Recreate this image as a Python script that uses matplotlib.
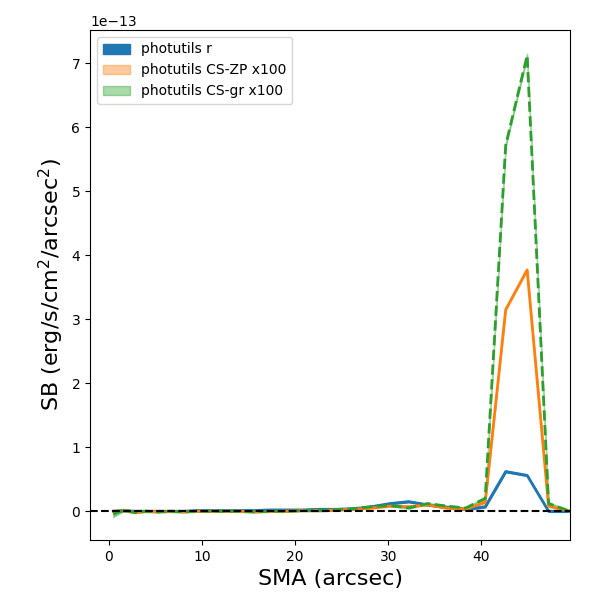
import numpy as np
import matplotlib
matplotlib.use("Agg")
import matplotlib.pyplot as plt

# semi-major axis samples (arcsec)
sma = np.array([0.5, 1.6, 2.8, 4.0, 5.3, 6.6, 8.0, 9.4, 10.9, 12.4, 14.0,
                15.6, 17.3, 19.0, 20.8, 22.6, 24.4, 26.3, 28.2, 30.2, 32.2,
                34.2, 36.3, 38.3, 40.4, 42.6, 44.9, 47.2, 49.5])

# surface brightness, units of 1e-13 erg/s/cm^2/arcsec^2
sb_r = np.array([0.0, 0.01, 0.0, 0.0, 0.0, 0.0, 0.0, 0.01, 0.01, 0.01, 0.01,
                 0.01, 0.02, 0.02, 0.02, 0.03, 0.03, 0.04, 0.07, 0.12, 0.15,
                 0.10, 0.06, 0.03, 0.07, 0.62, 0.56, 0.0, 0.0])
sb_zp = np.array([0.0, 0.01, -0.02, 0.0, -0.01, 0.0, -0.01, 0.0, 0.0, 0.0, 0.0,
                  -0.01, 0.0, 0.0, 0.01, 0.01, 0.02, 0.03, 0.05, 0.08, 0.07,
                  0.10, 0.05, 0.03, 0.14, 3.15, 3.77, 0.08, 0.0])
sb_gr = np.array([-0.05, 0.02, -0.02, 0.0, -0.01, 0.0, -0.01, 0.0, 0.0, 0.0, 0.0,
                  -0.01, 0.0, 0.0, 0.01, 0.01, 0.02, 0.04, 0.07, 0.09, 0.05,
                  0.12, 0.08, 0.05, 0.20, 5.72, 7.12, 0.12, 0.0])

# uncertainty bands
err_r = np.array([0.01] * len(sma))
err_zp = np.array([0.01] * len(sma))
err_gr = np.array([0.04, 0.02, 0.01, 0.01, 0.01, 0.01, 0.01, 0.01, 0.01, 0.01,
                   0.01, 0.01, 0.01, 0.01, 0.01, 0.01, 0.01, 0.01, 0.01, 0.01,
                   0.01, 0.01, 0.01, 0.01, 0.02, 0.03, 0.03, 0.02, 0.01])

scale = 1e-13

fig = plt.figure(figsize=(6, 6), dpi=100)
ax = fig.add_axes([0.15, 0.10, 0.80, 0.85])

ax.fill_between(sma, (sb_r - err_r) * scale, (sb_r + err_r) * scale,
                color="C0", alpha=1.0, label="photutils r")
ax.fill_between(sma, (sb_zp - err_zp) * scale, (sb_zp + err_zp) * scale,
                color="C1", alpha=0.4, label="photutils CS-ZP x100")
ax.fill_between(sma, (sb_gr - err_gr) * scale, (sb_gr + err_gr) * scale,
                color="C2", alpha=0.4, label="photutils CS-gr x100")

ax.plot(sma, sb_r * scale, color="C0", lw=2)
ax.plot(sma, sb_zp * scale, color="C1", lw=2)
ax.plot(sma, sb_gr * scale, color="C2", lw=2, ls="--")

ax.axhline(0, color="k", ls="--", lw=1.5)

ax.set_xlim(-2, 49.5)
ax.set_ylim(-0.45e-13, 7.52e-13)
ax.set_xlabel("SMA (arcsec)", fontsize=16)
ax.set_ylabel("SB (erg/s/cm$^2$/arcsec$^2$)", fontsize=16)
ax.legend(loc="upper left")

fig.savefig("out.png")
